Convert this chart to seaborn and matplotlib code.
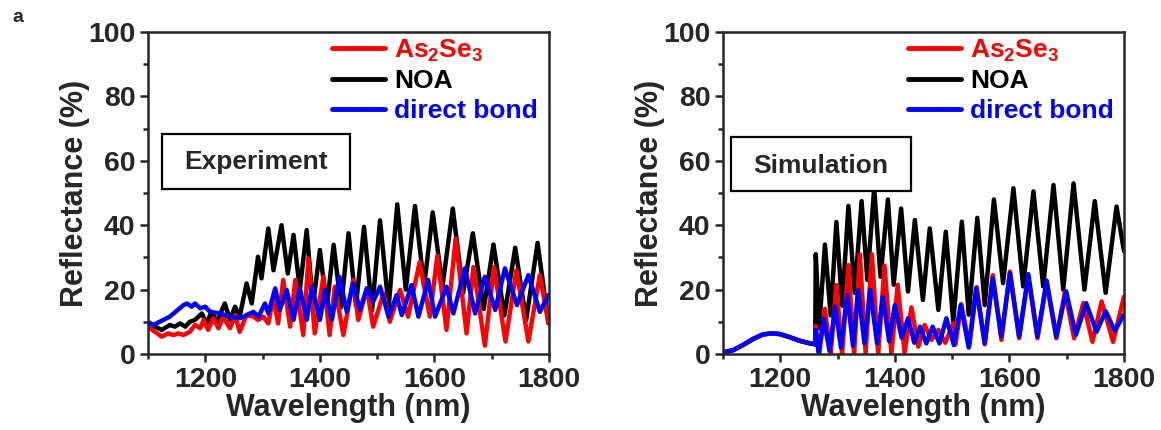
import numpy as np
import pandas as pd
import matplotlib
matplotlib.use("Agg")
import matplotlib.pyplot as plt
from matplotlib.patches import Rectangle
from matplotlib.ticker import MultipleLocator
import seaborn as sns

# ---------------- Experiment (measured reflectance, %) ----------------
exp_as2se3_wl = [1100, 1112, 1124, 1135, 1144, 1153, 1162, 1173, 1182, 1191, 1197, 1205,
                 1214, 1223, 1231, 1243, 1252, 1260, 1272, 1284, 1292, 1301, 1310, 1319,
                 1327, 1336, 1348, 1357, 1371, 1380, 1391, 1406, 1417, 1426, 1441, 1458,
                 1467, 1482, 1493, 1511, 1522, 1540, 1554, 1574, 1592, 1605, 1621, 1637,
                 1656, 1668, 1688, 1704, 1724, 1743, 1764, 1784, 1799]
exp_as2se3_r = [8.5, 6.9, 5.4, 6.4, 5.9, 6.4, 5.9, 6.9, 9.0, 8.0, 10.6, 7.5,
                11.1, 8.0, 11.6, 8.0, 12.1, 6.9, 12.1, 11.6, 10.6, 11.6, 9.5, 17.8,
                9.5, 23.0, 8.5, 23.0, 5.9, 29.7, 6.4, 24.0, 5.9, 20.9, 5.9, 23.0,
                10.6, 20.4, 8.5, 18.8, 10.0, 19.9, 11.6, 28.5, 11.6, 30.5, 7.5, 35.9,
                6.4, 27.0, 2.6, 27.0, 3.9, 26.0, 3.9, 24.5, 9.5]

exp_noa_wl = [1100, 1112, 1124, 1138, 1147, 1156, 1165, 1173, 1182, 1194, 1202, 1211,
              1220, 1234, 1243, 1252, 1260, 1272, 1281, 1292, 1298, 1310, 1319, 1333,
              1344, 1354, 1365, 1377, 1388, 1400, 1412, 1424, 1437, 1450, 1463, 1477,
              1491, 1505, 1520, 1535, 1550, 1566, 1582, 1597, 1614, 1632, 1650, 1667,
              1686, 1703, 1722, 1741, 1760, 1780, 1799]
exp_noa_r = [9.5, 8.5, 7.5, 9.0, 8.5, 9.5, 8.5, 10.0, 10.6, 12.6, 9.5, 13.1,
             10.0, 15.7, 10.6, 14.7, 11.6, 21.9, 15.7, 30.2, 23.5, 39.0, 26.0, 40.0,
             25.0, 37.0, 20.0, 38.5, 15.0, 32.3, 14.5, 33.9, 14.5, 37.5, 15.0, 39.5,
             13.5, 41.5, 14.5, 46.5, 20.0, 46.0, 21.0, 44.0, 21.0, 45.2, 19.0, 37.5,
             14.0, 34.0, 12.0, 33.0, 10.5, 34.5, 9.5]

exp_direct_wl = [1100, 1109, 1138, 1162, 1168, 1176, 1182, 1191, 1200, 1208, 1226, 1243,
                 1261, 1272, 1284, 1293, 1304, 1310, 1322, 1330, 1342, 1354, 1365, 1377,
                 1386, 1400, 1409, 1421, 1434, 1447, 1458, 1470, 1482, 1493, 1505, 1520,
                 1534, 1543, 1560, 1572, 1589, 1601, 1621, 1633, 1653, 1671, 1688, 1706,
                 1723, 1744, 1764, 1784, 1799]
exp_direct_r = [10.0, 9.0, 11.6, 15.2, 15.7, 14.7, 15.7, 14.2, 14.7, 13.1, 12.6, 11.6,
                11.1, 12.1, 13.1, 11.6, 15.7, 12.6, 20.4, 13.7, 19.9, 10.6, 20.4, 10.6,
                20.9, 10.6, 19.9, 10.6, 24.0, 13.1, 21.9, 13.7, 20.4, 16.3, 20.9, 11.6,
                18.3, 12.1, 21.4, 11.6, 23.0, 11.6, 20.9, 12.6, 26.6, 12.6, 24.0, 13.7,
                26.6, 15.2, 24.5, 13.1, 18.3]

# ---------------- Simulation (calculated reflectance, %) ----------------
sim_as2se3_wl = [1100, 1118, 1135, 1153, 1170, 1185, 1199, 1217, 1234, 1252, 1259, 1261,
                 1262, 1268, 1278, 1288, 1298, 1308, 1319, 1329, 1339, 1349, 1360, 1371,
                 1382, 1394, 1405, 1417, 1429, 1441, 1452, 1464, 1476, 1488, 1502, 1506,
                 1516, 1530, 1543, 1557, 1571, 1586, 1601, 1617, 1633, 1649, 1665, 1682,
                 1697, 1713, 1729, 1745, 1761, 1781, 1800]
sim_as2se3_r = [0.5, 1.2, 2.8, 4.7, 6.1, 6.4, 6.2, 5.2, 4.1, 3.3, 3.1, 3.0,
                8.7, 0.0, 14.0, 0.0, 21.4, 0.0, 27.6, 0.0, 31.0, 0.3, 31.0, 0.0,
                27.5, 0.0, 21.5, 0.5, 14.5, 2.3, 9.0, 4.4, 7.5, 3.5, 9.5, 3.0,
                15.5, 2.5, 20.8, 3.0, 24.5, 4.4, 25.6, 4.9, 24.0, 4.9, 22.0, 4.9,
                19.3, 4.9, 15.8, 3.8, 16.3, 3.8, 17.8]

sim_noa_wl = [1100, 1118, 1135, 1153, 1170, 1185, 1199, 1217, 1234, 1252, 1259, 1261,
              1262, 1268, 1278, 1288, 1298, 1308, 1319, 1330, 1342, 1352, 1364, 1375,
              1388, 1398, 1411, 1423, 1435, 1449, 1461, 1476, 1489, 1502, 1517, 1529,
              1544, 1557, 1573, 1589, 1607, 1624, 1642, 1659, 1677, 1694, 1712, 1731,
              1749, 1768, 1787, 1800]
sim_noa_r = [0.5, 1.2, 2.8, 4.7, 6.1, 6.4, 6.2, 5.2, 4.1, 3.3, 3.1, 3.0,
             31.0, 8.0, 34.0, 12.0, 41.0, 15.0, 46.0, 19.0, 47.5, 23.0, 51.5, 24.0,
             48.0, 21.5, 45.2, 19.4, 41.6, 16.8, 39.0, 13.7, 38.0, 10.1, 41.1, 12.2,
             42.3, 15.2, 48.0, 22.0, 51.5, 21.0, 50.5, 21.0, 52.5, 20.0, 53.0, 20.0,
             47.5, 19.0, 45.8, 32.0]

sim_direct_wl = [1100, 1118, 1135, 1153, 1170, 1185, 1199, 1217, 1234, 1252, 1259, 1261,
                 1262, 1267, 1276, 1286, 1296, 1306, 1317, 1327, 1336, 1347, 1357, 1369,
                 1379, 1390, 1400, 1412, 1423, 1434, 1444, 1455, 1466, 1478, 1490, 1503,
                 1515, 1529, 1542, 1557, 1571, 1586, 1601, 1617, 1633, 1649, 1665, 1682,
                 1699, 1716, 1734, 1752, 1768, 1784, 1800]
sim_direct_r = [0.5, 1.2, 2.8, 4.7, 6.1, 6.4, 6.2, 5.2, 4.1, 3.3, 3.1, 3.0,
                7.5, 0.3, 11.0, 1.0, 14.7, 2.0, 18.3, 2.5, 19.9, 3.3, 19.9, 3.3,
                17.8, 4.0, 15.2, 5.0, 11.1, 3.5, 8.5, 3.3, 8.5, 3.3, 11.1, 2.8,
                15.2, 2.0, 20.4, 3.3, 23.5, 5.4, 25.1, 5.4, 24.8, 5.4, 22.8, 5.4,
                19.5, 5.9, 15.8, 6.9, 13.3, 7.2, 12.2]

series_labels = [r"$\mathbf{As_2Se_3}$", "NOA", "direct bond"]
series_colors = ["#ff0000", "#000000", "#0000ff"]

sns.set_style("ticks")
plt.rcParams["font.family"] = ["Liberation Sans", "DejaVu Sans"]
plt.rcParams["font.weight"] = "bold"
plt.rcParams["axes.labelweight"] = "bold"
plt.rcParams["mathtext.fontset"] = "custom"
plt.rcParams["mathtext.bf"] = "Liberation Sans:bold"
plt.rcParams["mathtext.rm"] = "Liberation Sans:bold"

fig = plt.figure(figsize=(11.61, 4.30), dpi=100)
ax_exp = fig.add_axes([0.1275, 0.1767, 0.3454, 0.7488])
ax_sim = fig.add_axes([0.6227, 0.1767, 0.3454, 0.7488])


def draw_panel(ax, wls, rs, title, box, text_xy, legend_anchor):
    # NOA first, then As2Se3, then direct bond on top
    handles = {}
    for idx in [1, 0, 2]:
        df = pd.DataFrame({"Wavelength": wls[idx], "Reflectance": rs[idx]})
        sns.lineplot(data=df, x="Wavelength", y="Reflectance", ax=ax,
                     color=series_colors[idx], lw=3.2, estimator=None, sort=False,
                     label=series_labels[idx])
        line = ax.get_lines()[-1]
        line.set_solid_joinstyle("round")
        line.set_solid_capstyle("round")
        handles[idx] = line
    ax.set_xlim(1100, 1800)
    ax.set_ylim(0, 100)
    ax.xaxis.set_major_locator(MultipleLocator(200))
    ax.xaxis.set_minor_locator(MultipleLocator(100))
    ax.yaxis.set_major_locator(MultipleLocator(20))
    ax.yaxis.set_minor_locator(MultipleLocator(10))
    ax.tick_params(which="major", direction="out", length=6, width=1.8,
                   labelsize=20.5, pad=3)
    ax.tick_params(which="minor", direction="out", length=3.5, width=1.8)
    for lab in ax.get_xticklabels() + ax.get_yticklabels():
        lab.set_fontweight("bold")
    for sp in ax.spines.values():
        sp.set_linewidth(1.8)
        sp.set_visible(True)
    ax.set_xlabel("Wavelength (nm)", fontsize=22, fontweight="bold", labelpad=0)
    ax.set_ylabel("Reflectance (%)", fontsize=22, fontweight="bold", labelpad=-1)

    leg = ax.legend([handles[0], handles[1], handles[2]], series_labels,
                    loc="upper right", bbox_to_anchor=legend_anchor, frameon=False,
                    fontsize=19, handlelength=2.0, handletextpad=0.35,
                    labelspacing=0.22, borderpad=0.2, borderaxespad=0)
    for txt, c in zip(leg.get_texts(), series_colors):
        txt.set_color(c)
        txt.set_fontweight("bold")
    for ln in leg.get_lines():
        ln.set_linewidth(3.5)

    x0, y0, x1, y1 = box
    ax.add_patch(Rectangle((x0, y0), x1 - x0, y1 - y0, transform=ax.transAxes,
                           fill=True, facecolor="white", edgecolor="black",
                           lw=1.6, zorder=5))
    ax.text(text_xy[0], text_xy[1], title, transform=ax.transAxes, ha="center",
            va="center", fontsize=19, fontweight="bold", zorder=6)


draw_panel(ax_exp,
           [exp_as2se3_wl, exp_noa_wl, exp_direct_wl],
           [exp_as2se3_r, exp_noa_r, exp_direct_r],
           "Experiment", (0.035, 0.512, 0.504, 0.683), (0.269, 0.596),
           (0.985, 1.0))
draw_panel(ax_sim,
           [sim_as2se3_wl, sim_noa_wl, sim_direct_wl],
           [sim_as2se3_r, sim_noa_r, sim_direct_r],
           "Simulation", (0.020, 0.506, 0.469, 0.674), (0.244, 0.584),
           (0.9875, 1.0))

fig.text(12 / 1161, 1 - 17 / 430, "a", fontsize=14, fontweight="bold",
         ha="left", va="center")

fig.savefig("out.png", dpi=100)
